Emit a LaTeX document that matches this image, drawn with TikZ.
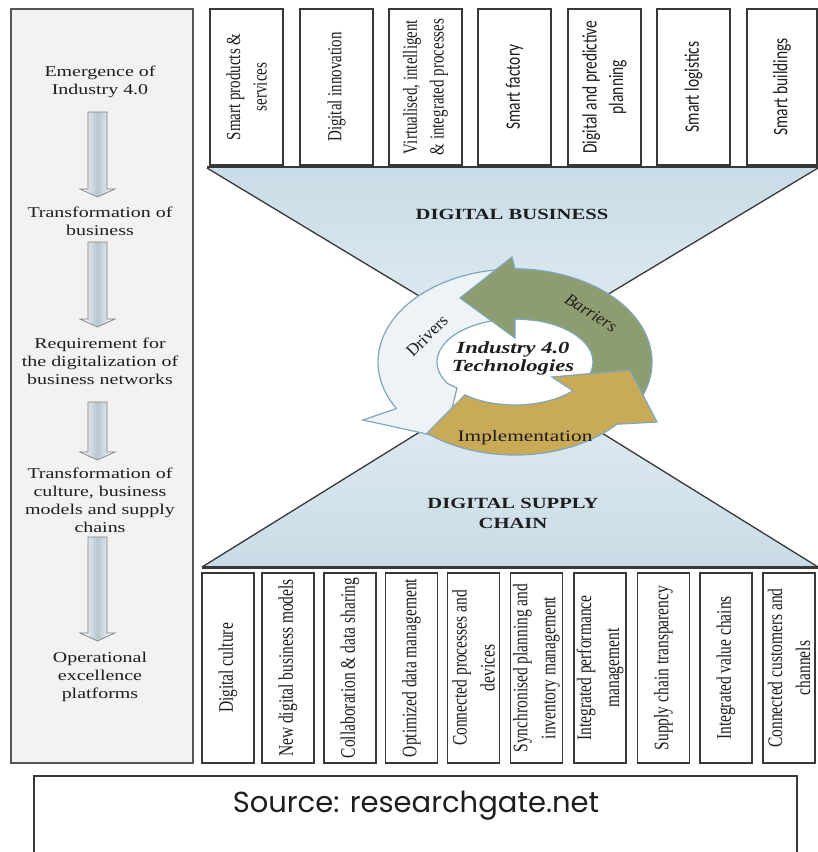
\documentclass[tikz,border=0pt]{standalone}
\usepackage{fontspec}
\setmainfont{Liberation Serif}
\newfontfamily\carlito{Carlito}
\newfontfamily\srcfont{Poppins}
\usetikzlibrary{calc}

\definecolor{panelfill}{HTML}{F2F2F2}
\definecolor{panelline}{HTML}{555555}
\definecolor{boxline}{HTML}{383838}
\definecolor{funneldark}{HTML}{C8DCE7}
\definecolor{funnellight}{HTML}{E4EDF2}
\definecolor{ringline}{HTML}{7FA6BA}
\definecolor{ringwhite}{HTML}{EEF3F7}
\definecolor{ringgreen}{HTML}{8E9D6F}
\definecolor{ringgold}{HTML}{C9AA57}
\definecolor{arrowmid}{HTML}{B7C6D0}
\definecolor{arrowline}{HTML}{808080}
\definecolor{ink}{HTML}{1E1E1E}

% block arrow from a start coordinate (tail) to an end coordinate (tip)
\newcommand\stagearrow[2]{%
  \shadedraw[stagearrowstyle]
    ($(#1)+(-9.5,0)$) -- ($(#1)+(9.5,0)$) -- ($(#2)+(9.5,-8)$) --
    ($(#2)+(17.5,-8)$) -- (#2) -- ($(#2)+(-17.5,-8)$) --
    ($(#2)+(-9.5,-8)$) -- cycle;}

\begin{document}
\begin{tikzpicture}[x=1pt,y=-1pt,
  panelstyle/.style={draw=panelline, line width=1.6pt, fill=panelfill,
    minimum width=182pt, minimum height=754pt, anchor=north west, inner sep=0},
  stage/.style={align=center, text=ink, font=\fontsize{15}{18}\selectfont,
    xscale=1.33, inner sep=0},
  stagearrowstyle/.style={draw=arrowline, line width=0.7pt,
    left color=white, right color=white, middle color=arrowmid},
  tbox/.style={draw=boxline, line width=1.4pt, fill=white,
    minimum width=73pt, minimum height=156pt, inner sep=0},
  bbox/.style={draw=boxline, line width=1.4pt, fill=white,
    minimum width=52pt, minimum height=190pt, inner sep=0},
  vtext/.style={rotate=90, yscale=1.33, align=center, text=ink,
    font=\fontsize{15}{20}\selectfont, inner sep=0},
  vtextb/.style={rotate=90, yscale=1.33, align=center, text=ink,
    font=\fontsize{15.5}{21}\selectfont, inner sep=0},
  heading/.style={align=center, text=ink, xscale=1.33, inner sep=0,
    font=\bfseries\fontsize{15.5}{20}\selectfont},
  ringpath/.style={draw=ringline, line width=1.2pt},
  funnelline/.style={draw=boxline, line width=1.3pt},
  bar/.style={draw=boxline, line width=2.2pt}
]
\useasboundingbox (0,0) rectangle (818,852);
\fill[white] (0,0) rectangle (818,852);

% ---------- left column: stages of the transformation ----------
\node[panelstyle] (panel) at (10,8) {};
\node[stage] (t1) at (100,81.5) {Emergence of\\Industry 4.0};
\node[stage] (t2) at (100,221.5) {Transformation of\\business};
\node[stage] (t3) at (100,361.5) {Requirement for\\the digitalization of\\business networks};
\node[stage] (t4) at (100,500) {Transformation of\\culture, business\\models and supply\\chains};
\node[stage] (t5) at (100,676.5) {Operational\\excellence\\platforms};

\coordinate (a1s) at (97.5,112); \coordinate (a1e) at (97.5,197);
\coordinate (a2s) at (97.5,242); \coordinate (a2e) at (97.5,327);
\coordinate (a3s) at (97.5,402); \coordinate (a3e) at (97.5,460);
\coordinate (a4s) at (97.5,537); \coordinate (a4e) at (97.5,641);
\stagearrow{a1s}{a1e}
\stagearrow{a2s}{a2e}
\stagearrow{a3s}{a3e}
\stagearrow{a4s}{a4e}

% ---------- funnels ----------
\coordinate (ftl) at (207,168); \coordinate (ftr) at (818,168); \coordinate (ftc) at (512,352);
\coordinate (fbl) at (202,567); \coordinate (fbr) at (818,567); \coordinate (fbc) at (510,376);
\shade[top color=funneldark, bottom color=funnellight] (ftl) -- (ftr) -- (ftc) -- cycle;
\shade[top color=funnellight, bottom color=funneldark] (fbl) -- (fbr) -- (fbc) -- cycle;
\draw[funnelline] (ftl) -- (ftc) -- (ftr);
\draw[funnelline] (fbl) -- (fbc) -- (fbr);
\draw[bar] (207,167) -- (818,167);
\draw[bar] (202,567.5) -- (818,567.5);

% ---------- digital business elements ----------
\node[tbox] (b1) at (246.5,87) {};
\node[tbox] (b2) at (336.5,87) {};
\node[tbox] (b3) at (425.5,87) {};
\node[tbox] (b4) at (514.5,87) {};
\node[tbox] (b5) at (604.5,87) {};
\node[tbox] (b6) at (693.5,87) {};
\node[tbox, minimum width=70pt] (b7) at (782,87) {};
\node[vtext] at (b1) {Smart products \&\\services};
\node[vtext] at (b2) {Digital innovation};
\node[vtext] at (b3) {Virtualised, intelligent\\\& integrated processes};
\node[vtext, font=\carlito\fontsize{15.5}{20}\selectfont] at (b4) {Smart factory};
\node[vtext, font=\carlito\fontsize{15.5}{20}\selectfont] at (b5) {Digital and predictive\\planning};
\node[vtext, font=\carlito\fontsize{15.5}{20}\selectfont] at (b6) {Smart logistics};
\node[vtext, font=\carlito\fontsize{15.5}{20}\selectfont] at (b7) {Smart buildings};

% ---------- digital supply chain elements ----------
\node[bbox] (s1) at (228,668) {};
\node[bbox] (s2) at (288,668) {};
\node[bbox] (s3) at (350,668) {};
\node[bbox] (s4) at (411.5,668) {};
\node[bbox] (s5) at (473.5,668) {};
\node[bbox] (s6) at (536.5,668) {};
\node[bbox] (s7) at (600,668) {};
\node[bbox] (s8) at (663.5,668) {};
\node[bbox] (s9) at (726,668) {};
\node[bbox] (s10) at (789,668) {};
\node[vtextb] at (s1) {Digital culture};
\node[vtextb] at (s2) {New digital business models};
\node[vtextb] at (s3) {Collaboration \& data sharing};
\node[vtextb] at (s4) {Optimized data management};
\node[vtextb] at (s5) {Connected processes and\\devices};
\node[vtextb] at (s6) {Synchronised planning and\\inventory management};
\node[vtextb] at (s7) {Integrated performance\\management};
\node[vtextb] at (s8) {Supply chain transparency};
\node[vtextb] at (s9) {Integrated value chains};
\node[vtextb] at (s10) {Connected customers and\\channels};

\node[heading] (dbiz) at (512,214) {DIGITAL BUSINESS};
\node[heading] (dsc) at (513,513) {DIGITAL SUPPLY\\CHAIN};

% ---------- technology cycle ----------
\begin{scope}[shift={(515,362)}]
  \fill[white] (0pt,0pt) ellipse [x radius=80pt, y radius=45pt];
  % drivers
  \filldraw[ringpath, fill=ringwhite]
    (75:137pt and 93pt) arc[start angle=75, end angle=210, x radius=137pt, y radius=93pt]
    -- (-152pt,-58pt) -- (-70pt,-76pt) -- (-58pt,-26pt)
    -- (210:78pt and 43pt) arc[start angle=210, end angle=75, x radius=78pt, y radius=43pt]
    -- cycle;
  % barriers
  \filldraw[ringpath, fill=ringgreen]
    (-35:137pt and 93pt) arc[start angle=-35, end angle=90, x radius=137pt, y radius=93pt]
    -- (-3pt,105pt) -- (-55pt,64pt) -- (0pt,24pt)
    -- (90:78pt and 43pt) arc[start angle=90, end angle=-35, x radius=78pt, y radius=43pt]
    -- cycle;
  % implementation
  \filldraw[ringpath, fill=ringgold]
    (230:137pt and 93pt) arc[start angle=230, end angle=318, x radius=137pt, y radius=93pt]
    -- (142pt,-60pt) -- (115pt,-8pt) -- (37pt,-15pt)
    -- (318:78pt and 43pt) arc[start angle=318, end angle=230, x radius=78pt, y radius=43pt]
    -- cycle;
\end{scope}

\node[rotate=45, text=ink, inner sep=0, font=\fontsize{17}{17}\selectfont] (drv) at (427,336) {Drivers};
\node[rotate=-32, text=ink, inner sep=0, font=\itshape\fontsize{17}{17}\selectfont] (bar) at (591,313) {Barriers};
\node[xscale=1.33, text=ink, inner sep=0, font=\fontsize{16}{16}\selectfont] (impl) at (525,438) {Implementation};
\node[xscale=1.33, align=center, text=ink, inner sep=0,
  font=\bfseries\itshape\fontsize{17}{18}\selectfont] (tech) at (513,358) {Industry 4.0\\Technologies};

% ---------- source ----------
\draw[boxline, line width=1.4pt] (34,870) -- (34,776) -- (797,776) -- (797,870);
\node[text=ink, inner sep=0, font=\srcfont\fontsize{29}{30}\selectfont] (src) at (416,806) {Source: researchgate.net};
\end{tikzpicture}
\end{document}
